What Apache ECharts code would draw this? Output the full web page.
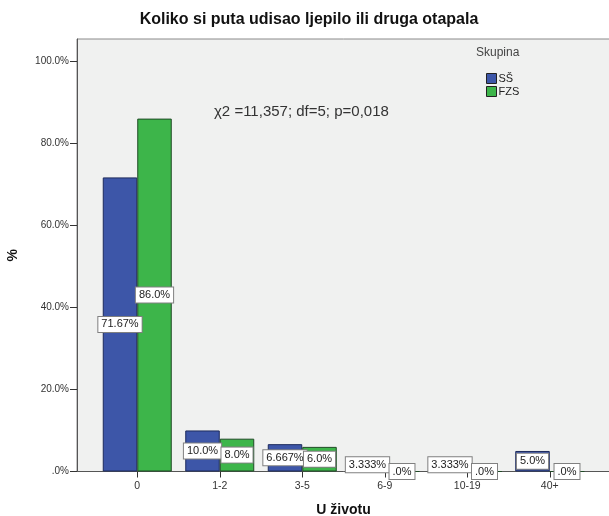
<!DOCTYPE html>
<html>
<head>
<meta charset="utf-8">
<script src="https://cdn.jsdelivr.net/npm/echarts@6/dist/echarts.min.js"></script>
<style>html,body{margin:0;padding:0;background:#fff}#c{width:609px;height:516px}</style>
</head>
<body>
<div id="c"></div>
<script>
const categories = ['0', '1-2', '3-5', '6-9', '10-19', '40+'];
const ssValues = [71.67, 10.0, 6.667, 3.333, 3.333, 5.0];
const fzsValues = [86.0, 8.0, 6.0, 0, 0, 0];
const ssLabels = ['71.67%', '10.0%', '6.667%', '3.333%', '3.333%', '5.0%'];
const fzsLabels = ['86.0%', '8.0%', '6.0%', '.0%', '.0%', '.0%'];
const yTicks = [0, 20, 40, 60, 80, 100];
const yTickLabels = ['.0%', '20.0%', '40.0%', '60.0%', '80.0%', '100.0%'];
const seriesNames = ['SŠ', 'FZS'];
const titleText = 'Koliko si puta udisao ljepilo ili druga otapala';
const noteText = 'χ2 =11,357; df=5; p=0,018';
const legendTitle = 'Skupina';
const xName = 'U životu';
const yName = '%';

const FONT = '"Liberation Sans", Arial, sans-serif';
const YMAX = 105.4;

const labelStyle = {
  show: true,
  position: 'inside',
  backgroundColor: '#ffffff',
  borderColor: '#808080',
  borderWidth: 1,
  padding: [2, 3, 2, 3],
  fontSize: 11,
  fontFamily: FONT,
  color: '#222'
};

const chart = echarts.init(document.getElementById('c'), null, { renderer: 'canvas' });
chart.setOption({
  animation: false,
  textStyle: { fontFamily: FONT },
  graphic: [
    { type: 'text', x: 309, y: 20, style: { text: titleText, font: 'bold 16px ' + FONT, fill: '#111', align: 'center', verticalAlign: 'middle' } },
    { type: 'text', x: 214, y: 112, style: { text: noteText, font: '15px ' + FONT, fill: '#333', align: 'left', verticalAlign: 'middle' } },
    { type: 'text', x: 476, y: 53, style: { text: legendTitle, font: '12px ' + FONT, fill: '#444', align: 'left', verticalAlign: 'middle' } }
  ],
  legend: {
    data: seriesNames,
    orient: 'vertical',
    left: 481,
    top: 68,
    itemWidth: 10,
    itemHeight: 10,
    itemGap: 2,
    icon: 'rect',
    textStyle: { fontSize: 11, color: '#222', fontFamily: FONT, padding: [0, 0, 0, -3] },
    itemStyle: { borderColor: '#222', borderWidth: 1 }
  },
  grid: [
    { left: 96, right: 18, top: 39, bottom: 44.5, containLabel: false, outerBoundsMode: 'none' },
    { left: 77, right: -2, top: 39, bottom: 44.5, containLabel: false, outerBoundsMode: 'none', show: true, backgroundColor: '#f0f1f0', borderColor: '#8a8a8a', borderWidth: 1, z: 0 }
  ],
  xAxis: [
    {
      gridIndex: 0, type: 'category', data: categories,
      axisLine: { show: false },
      axisTick: { show: true, alignWithLabel: true, length: 6, lineStyle: { color: '#333' } },
      axisLabel: { fontSize: 10.5, color: '#333', margin: 9, fontFamily: FONT },
      name: xName, nameLocation: 'middle', nameGap: 32, nameMoveOverlap: false,
      nameTextStyle: { fontSize: 14, fontWeight: 'bold', color: '#111', fontFamily: FONT }
    },
    {
      gridIndex: 1, type: 'value', min: 0, max: 1, show: true,
      axisLine: { show: true, lineStyle: { color: '#555', width: 1 } },
      axisTick: { show: false }, axisLabel: { show: false }, splitLine: { show: false }
    }
  ],
  yAxis: [
    { gridIndex: 0, type: 'value', min: 0, max: YMAX, show: false, splitLine: { show: false } },
    {
      gridIndex: 1, type: 'value', min: 0, max: YMAX, interval: 20,
      axisLine: { show: true, lineStyle: { color: '#555', width: 1 } },
      axisTick: { show: true, length: 7, customValues: yTicks, lineStyle: { color: '#333' } },
      axisLabel: {
        fontSize: 10, color: '#333', margin: 8, fontFamily: FONT, customValues: yTicks,
        formatter: function (v) { const i = yTicks.indexOf(v); return i >= 0 ? yTickLabels[i] : ''; }
      },
      splitLine: { show: false },
      name: yName, nameLocation: 'middle', nameGap: 57, nameMoveOverlap: false,
      nameTextStyle: { fontSize: 14, fontWeight: 'bold', color: '#111', fontFamily: FONT }
    }
  ],
  series: [
    {
      name: seriesNames[0], type: 'bar', xAxisIndex: 0, yAxisIndex: 0,
      data: ssValues, barWidth: 34.5, barGap: '0%', z: 3,
      itemStyle: { color: '#3d56a8', borderColor: '#1d2a5c', borderWidth: 1 },
      label: Object.assign({}, labelStyle, { formatter: function (p) { return ssLabels[p.dataIndex]; } })
    },
    {
      name: seriesNames[1], type: 'bar', xAxisIndex: 0, yAxisIndex: 0,
      data: fzsValues, barWidth: 34.5, barGap: '0%', z: 3,
      itemStyle: { color: '#3db54a', borderColor: '#1f4a25', borderWidth: 1 },
      label: Object.assign({}, labelStyle, { formatter: function (p) { return fzsLabels[p.dataIndex]; } })
    }
  ]
});
</script>
</body>
</html>
